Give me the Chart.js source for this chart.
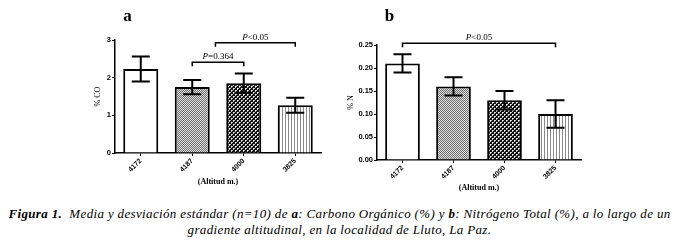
<!DOCTYPE html>
<html>
<head>
<meta charset="utf-8">
<script src="https://cdn.jsdelivr.net/npm/chart.js@4.4.0/dist/chart.umd.min.js"></script>
<style>
  body { margin: 0; background: #fff; width: 687px; height: 250px; overflow: hidden; position: relative; }
  .box { position: absolute; top: 0; }
  #wa { left: 93px; width: 237px; height: 187px; }
  #wb { left: 346px; width: 244px; height: 193px; }
  .cap { position: absolute; left: -4px; width: 687px; text-align: center; white-space: nowrap;
         font-family: "Liberation Serif", serif; font-style: italic; font-size: 13px;
         letter-spacing: 0.35px; color: #000; }
</style>
</head>
<body>
<div class="box" id="wa"><canvas id="chartA"></canvas></div>
<div class="box" id="wb"><canvas id="chartB"></canvas></div>
<div class="cap" style="top:206px"><b>Figura 1.</b>&nbsp; Media y desviación estándar (n=10) de <b>a</b>: Carbono Orgánico (%) y <b>b</b>: Nitrógeno Total (%), a lo largo de un</div>
<div class="cap" style="top:222px">gradiente altitudinal, en la localidad de Lluto, La Paz.</div>
<script>
const altitudes = ['4172', '4187', '4000', '3825'];
const coMean = [2.23, 1.75, 1.85, 1.27];
const coSd = [0.33, 0.19, 0.26, 0.20];
const nMean = [0.21, 0.16, 0.13, 0.10];
const nSd = [0.02, 0.02, 0.02, 0.03];
// [from category, to category, height, text after P]
const coBrackets = [[1, 2, 2.41, '=0.364'], [1.45, 3, 2.93, '<0.05']];
const nBrackets = [[0, 3, 0.254, '<0.05']];

function tile(w, h, draw) {
    const c = document.createElement('canvas');
    c.width = w; c.height = h;
    const g = c.getContext('2d');
    draw(g);
    return c.getContext('2d').createPattern(c, 'repeat');
}
function fills() {
    const dots = tile(2, 2, g => {
        g.fillStyle = '#e4e4e4'; g.fillRect(0, 0, 2, 2);
        g.fillStyle = '#6a6a6a'; g.fillRect(0, 0, 1, 1); g.fillRect(1, 1, 1, 1);
    });
    const hatch = tile(4, 4, g => {
        g.fillStyle = '#111'; g.fillRect(0, 0, 4, 4);
        g.fillStyle = '#fff'; g.fillRect(0, 0, 1, 1); g.fillRect(2, 2, 1, 1);
        g.fillStyle = '#bbb'; g.fillRect(1, 0, 1, 1); g.fillRect(0, 1, 1, 1);
        g.fillRect(3, 2, 1, 1); g.fillRect(2, 3, 1, 1);
    });
    const stripes = tile(3, 1, g => {
        g.fillStyle = '#fff'; g.fillRect(0, 0, 3, 1);
        g.fillStyle = '#8a8a8a'; g.fillRect(0, 0, 1, 1);
    });
    return ['#ffffff', dots, hatch, stripes];
}

const marks = {
    id: 'marks',
    afterDatasetsDraw(chart, args, o) {
        const ctx = chart.ctx, xs = chart.scales.x, ys = chart.scales.y;
        const meta = chart.getDatasetMeta(0);
        ctx.save();
        ctx.strokeStyle = '#000';
        ctx.lineWidth = 2;
        o.mean.forEach((m, i) => {
            const cx = meta.data[i].x;
            const top = ys.getPixelForValue(m + o.sd[i]);
            const bot = ys.getPixelForValue(m - o.sd[i]);
            ctx.beginPath();
            ctx.moveTo(cx, top); ctx.lineTo(cx, bot);
            ctx.moveTo(cx - 9, top); ctx.lineTo(cx + 9, top);
            ctx.moveTo(cx - 9, bot); ctx.lineTo(cx + 9, bot);
            ctx.stroke();
        });

        ctx.lineWidth = 1.5;
        ctx.fillStyle = '#000';
        ctx.textBaseline = 'alphabetic';
        o.brackets.forEach(b => {
            const x1 = xs.getPixelForValue(b[0]), x2 = xs.getPixelForValue(b[1]);
            const by = ys.getPixelForValue(b[2]);
            ctx.beginPath();
            ctx.moveTo(x1, by + 4); ctx.lineTo(x1, by); ctx.lineTo(x2, by); ctx.lineTo(x2, by + 4);
            ctx.stroke();
            ctx.font = 'italic 9px "Liberation Serif"';
            const wp = ctx.measureText('P').width;
            ctx.font = '9px "Liberation Serif"';
            const wr = ctx.measureText(b[3]).width;
            const sx = (x1 + x2) / 2 - (wp + wr) / 2;
            ctx.textAlign = 'left';
            ctx.font = 'italic 9px "Liberation Serif"';
            ctx.fillText('P', sx, by - 3);
            ctx.font = '9px "Liberation Serif"';
            ctx.fillText(b[3], sx + wp, by - 3);
        });

        ctx.font = 'bold 17px "Liberation Serif"';
        ctx.textAlign = 'center';
        ctx.fillText(o.letter, chart.chartArea.left + 12.5, 20.5);
        ctx.restore();
    }
};

function makeChart(id, values, sd, brackets, letter, yTitle, yMax, yStep, digits, yWidth, padTop, xHeight) {
    const ctx = document.getElementById(id).getContext('2d');
    return new Chart(ctx, {
        type: 'bar',
        data: {
            labels: altitudes,
            datasets: [{
                data: values,
                backgroundColor: fills(),
                borderColor: '#000',
                borderWidth: 2,
                barPercentage: 0.68,
                categoryPercentage: 1
            }]
        },
        options: {
            responsive: true,
            maintainAspectRatio: false,
            animation: false,
            layout: { padding: { top: padTop, right: 9, left: 0, bottom: 0 } },
            plugins: {
                legend: { display: false },
                tooltip: { enabled: false },
                marks: { mean: values, sd: sd, brackets: brackets, letter: letter }
            },
            scales: {
                x: {
                    grid: { display: true, offset: false, drawOnChartArea: false, drawTicks: true,
                            tickLength: 3, tickColor: '#000', tickWidth: 1 },
                    border: { display: true, color: '#000', width: 1.5 },
                    ticks: { color: '#000', maxRotation: 45, minRotation: 45, padding: 1,
                             font: { family: 'Liberation Sans', weight: 'bold', size: 7 } },
                    title: { display: true, text: '(Altitud m.)', color: '#000', padding: 0,
                             font: { family: 'Liberation Serif', weight: 'bold', size: 8 } },
                    afterFit: s => { s.height = xHeight; }
                },
                y: {
                    min: 0,
                    max: yMax,
                    grid: { display: true, drawOnChartArea: false, drawTicks: true,
                            tickLength: 3, tickColor: '#000', tickWidth: 1 },
                    border: { display: true, color: '#000', width: 1.5 },
                    ticks: { stepSize: yStep, color: '#000', padding: 1,
                             font: { family: 'Liberation Sans', weight: 'bold', size: 7.5 },
                             callback: v => v.toFixed(digits) },
                    title: { display: true, text: yTitle, color: '#000', padding: 0,
                             font: { family: 'Liberation Serif', size: 8 } },
                    afterFit: s => { s.width = yWidth; }
                }
            }
        },
        plugins: [marks]
    });
}

makeChart('chartA', coMean, coSd, coBrackets, 'a', '% CO', 3, 1, 0, 22, 40, 34);
makeChart('chartB', nMean, nSd, nBrackets, 'b', '% N', 0.25, 0.05, 2, 31, 45, 33);
</script>
</body>
</html>
